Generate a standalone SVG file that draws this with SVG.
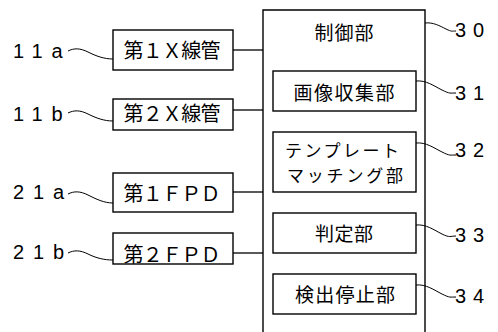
<svg xmlns="http://www.w3.org/2000/svg" width="498" height="332" viewBox="0 0 498 332">
<style>
.box{fill:#fff;stroke:#000;stroke-width:1.4}
.ln{fill:none;stroke:#000;stroke-width:1.3}
.ld{fill:none;stroke:#000;stroke-width:1}
.t{font-family:"Noto Sans CJK JP","Noto Sans",sans-serif;font-size:19px;fill:#000;text-anchor:middle}
.tl{font-size:20px}
.ts{font-size:17px}
.lb{font-family:"Liberation Sans",Arial,sans-serif;font-size:20px;fill:#000}
</style>
<rect width="498" height="332" fill="#fff"/>
<g id="n30">
<path class="box" d="M263,334 V10 H425 V334"/>
<text class="t" x="344" y="40" textLength="59" lengthAdjust="spacing">制御部</text>
</g>
<g id="n31">
<rect class="box" x="273" y="71" width="143" height="40"/>
<text class="t" x="344" y="100" textLength="101" lengthAdjust="spacing">画像収集部</text>
</g>
<g id="n32">
<rect class="box" x="273" y="132" width="143" height="60"/>
<text class="t ts" x="342" y="157" textLength="114" lengthAdjust="spacing">テンプレート</text>
<text class="t ts" x="345" y="182" textLength="116" lengthAdjust="spacing">マッチング部</text>
</g>
<g id="n33">
<rect class="box" x="273" y="213" width="143" height="40"/>
<text class="t" x="344" y="241" textLength="58" lengthAdjust="spacing">判定部</text>
</g>
<g id="n34">
<rect class="box" x="273" y="274" width="143" height="40"/>
<text class="t" x="345" y="302" textLength="100" lengthAdjust="spacing">検出停止部</text>
</g>
<g id="n11a">
<rect class="box" x="113" y="30" width="120" height="40"/>
<text class="t tl" x="172" y="58" textLength="97" lengthAdjust="spacing">第１Ｘ線管</text>
</g>
<g id="n11b">
<rect class="box" x="113" y="99" width="120" height="31"/>
<text class="t tl" x="172" y="121" textLength="97" lengthAdjust="spacing">第２Ｘ線管</text>
</g>
<g id="n21a">
<rect class="box" x="113" y="173" width="120" height="39"/>
<text class="t tl" x="172" y="201" textLength="97" lengthAdjust="spacing">第１ＦＰＤ</text>
</g>
<g id="n21b">
<rect class="box" x="113" y="233" width="120" height="31"/>
<text class="t tl" x="172" y="262" textLength="97" lengthAdjust="spacing">第２ＦＰＤ</text>
</g>
<g id="connectors">
<line class="ln" x1="233" y1="50" x2="263" y2="50"/>
<line class="ln" x1="233" y1="110" x2="263" y2="110"/>
<line class="ln" x1="233" y1="192" x2="263" y2="192"/>
<line class="ln" x1="233" y1="253" x2="263" y2="253"/>
</g>
<g id="labels">
<path class="ld" d="M68,51 C74,48 80,48 88,52 S104,59 113,59"/>
<path class="ld" d="M68,113 C74,110 80,110 88,114 S104,121 113,121"/>
<path class="ld" d="M68,194 C74,191 80,191 88,195 S104,203 113,203"/>
<path class="ld" d="M68,253 C74,250 80,250 88,254 S104,260 113,260"/>
<text class="lb" x="13" y="58" letter-spacing="8.9">11a</text>
<text class="lb" x="13" y="121" letter-spacing="8.9">11b</text>
<text class="lb" x="13" y="199" letter-spacing="8.9">21a</text>
<text class="lb" x="13" y="259" letter-spacing="8.9">21b</text>
<path class="ld" d="M425,23 C433,22 440,26 446,29 S452,31 456,31"/>
<path class="ld" d="M416,81 C426,80 434,86 442,90 S450,93 456,93"/>
<path class="ld" d="M416,143 C426,142 434,148 442,152 S450,155 456,155"/>
<path class="ld" d="M416,225 C426,224 434,230 442,234 S450,236 456,236"/>
<path class="ld" d="M416,285 C426,284 434,290 442,294 S450,297 456,297"/>
<text class="lb" x="455" y="37" letter-spacing="7">30</text>
<text class="lb" x="455" y="100" letter-spacing="7">31</text>
<text class="lb" x="455" y="157" letter-spacing="7">32</text>
<text class="lb" x="455" y="242" letter-spacing="7">33</text>
<text class="lb" x="455" y="303" letter-spacing="7">34</text>
</g>
</svg>
